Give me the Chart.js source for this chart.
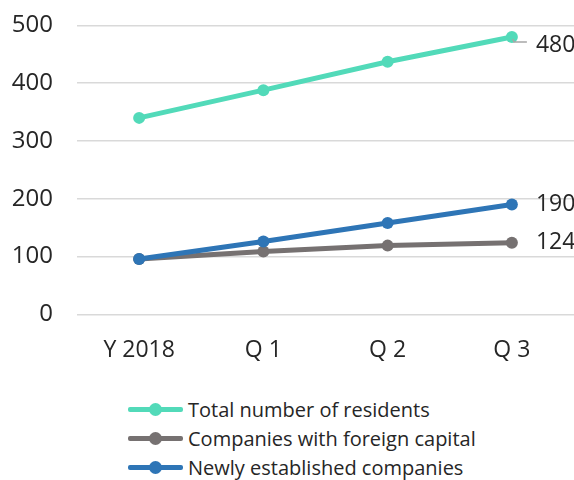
<!DOCTYPE html>
<html>
<head>
<meta charset="utf-8">
<script src="https://cdn.jsdelivr.net/npm/chart.js@4"></script>
<style>
  body { margin: 0; background: #fff; font-family: "Open Sans", sans-serif; }
  #wrap { position: relative; width: 574px; height: 480px; overflow: hidden; }
  #chart { position: absolute; left: 0; top: -13px; }
  #legend { position: absolute; left: 128px; top: 395px; color: #262626; font-size: 20px; }
  .item { display: flex; align-items: center; height: 29px; }
  .swatch { position: relative; width: 55px; height: 5px; margin-right: 5px; border-radius: 2px; }
  .swatch span { position: absolute; left: 21px; top: -4px; width: 13px; height: 13px; border-radius: 50%; }
</style>
</head>
<body>
<div id="wrap">
  <canvas id="chart" width="574" height="391"></canvas>
  <div id="legend"></div>
</div>
<script>
const categories = ["Y 2018", "Q 1", "Q 2", "Q 3"];
const residents = [340, 388, 437, 480];
const foreignCapital = [96, 109, 119, 124];
const newCompanies = [96, 126, 158, 190];
const yTicks = [0, 100, 200, 300, 400, 500];

const colors = ['#52dab9', '#767171', '#2e75b6'];

// labels at the last point of every series
const endLabels = {
    id: 'endLabels',
    afterDatasetsDraw(chart) {
        const ctx = chart.ctx;
        ctx.save();
        ctx.font = '23px "Open Sans", sans-serif';
        ctx.fillStyle = '#262626';
        ctx.textBaseline = 'middle';
        chart.data.datasets.forEach((ds, i) => {
            const pts = chart.getDatasetMeta(i).data;
            const p = pts[pts.length - 1];
            let y = p.y;
            if (ds.data === residents) {
                // small leader line for the top label
                y = p.y + 8;
                ctx.strokeStyle = '#a6a6a6';
                ctx.lineWidth = 1.5;
                ctx.beginPath();
                ctx.moveTo(p.x + 1, p.y + 2);
                ctx.lineTo(p.x + 2, p.y + 5);
                ctx.lineTo(p.x + 15, p.y + 5);
                ctx.stroke();
            }
            ctx.fillText(ds.data[ds.data.length - 1], p.x + 24, y);
        });
        ctx.restore();
    }
};

const chart = new Chart(document.getElementById('chart'), {
    type: 'line',
    data: {
        labels: categories,
        datasets: [
            { label: 'Total number of residents', data: residents },
            { label: 'Companies with foreign capital', data: foreignCapital },
            { label: 'Newly established companies', data: newCompanies }
        ].map((d, i) => Object.assign(d, {
            borderColor: colors[i],
            backgroundColor: colors[i],
            borderWidth: 5,
            pointRadius: 6,
            pointBorderWidth: 0,
            fill: false,
            tension: 0
        })).reverse()
    },
    options: {
        responsive: false,
        animation: false,
        layout: { autoPadding: false, padding: { left: 12, right: 0, top: 0, bottom: 0 } },
        plugins: { legend: { display: false }, tooltip: { enabled: false } },
        scales: {
            x: {
                offset: true,
                grid: { display: false },
                border: { display: false },
                ticks: { color: '#262626', font: { family: '"Open Sans", sans-serif', size: 23 }, padding: 14 }
            },
            y: {
                min: 0, max: 500,
                afterBuildTicks: axis => { axis.ticks = yTicks.map(v => ({ value: v })); },
                afterFit: axis => { axis.width = 65; },
                grid: { color: '#d9d9d9', lineWidth: 1.5, drawTicks: false },
                border: { display: false },
                ticks: { color: '#262626', font: { family: '"Open Sans", sans-serif', size: 24 }, padding: 24 }
            }
        }
    },
    plugins: [endLabels]
});

// legend in original series order
const legend = document.getElementById('legend');
chart.data.datasets.slice().reverse().forEach(ds => {
    const item = document.createElement('div');
    item.className = 'item';
    item.innerHTML = `<div class="swatch" style="background:${ds.borderColor}"><span style="background:${ds.borderColor}"></span></div>${ds.label}`;
    legend.appendChild(item);
});
</script>
</body>
</html>
